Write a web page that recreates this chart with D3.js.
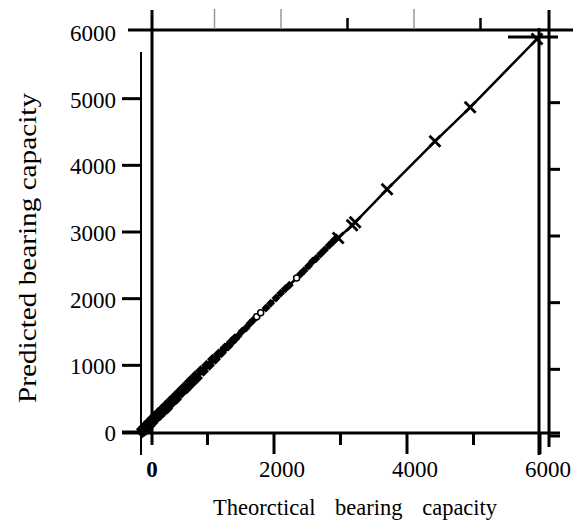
<!DOCTYPE html>
<html>
<head>
<meta charset="utf-8">
<script src="https://cdn.jsdelivr.net/npm/d3@7"></script>
<style>
	body { margin: 0; background: #fff; }
	svg { display: block; }
</style>
</head>
<body>
<svg id="chart"></svg>
<script>
// axis ticks
var xTicks = [0, 2000, 4000, 6000],
	xMinorTicks = [1000, 3000, 5000],
	yTicks = [0, 1000, 2000, 3000, 4000, 5000, 6000],
	topGrayTicks = [1000, 2000, 4000],
	topDarkTicks = [3000, 5000];

// filled diamonds (dense lower part)
var diamondTheo = [5, 20, 35, 50, 65, 80, 95, 115, 135, 155, 180, 205, 230, 255, 280, 310, 340, 370, 400, 430, 465, 500, 535, 570, 610, 650, 690, 730, 770, 810, 850, 895, 940, 985, 1030, 1075, 1120, 1165, 1210, 1260, 1310, 1360, 1410, 1460, 1520, 1580, 1640, 1690, 1880, 1950, 2030, 2100, 2170, 2230, 2400, 2450, 2520, 2580, 2630, 2700, 2760, 2830, 2880, 2910, 2940];
var diamondPred = [40, -10, 60, 10, 100, 30, 70, 150, 90, 190, 140, 240, 200, 290, 240, 340, 300, 400, 350, 460, 430, 530, 490, 600, 580, 680, 650, 760, 730, 840, 810, 920, 910, 1000, 1000, 1090, 1090, 1170, 1190, 1260, 1290, 1350, 1400, 1440, 1510, 1560, 1630, 1680, 1860, 1930, 2010, 2080, 2150, 2200, 2370, 2420, 2490, 2560, 2600, 2670, 2730, 2800, 2850, 2880, 2910];

// open circles
var circleTheo = [1740, 1800, 2340];
var circlePred = [1730, 1790, 2310];

// crosses (upper part)
var crossTheo = [2965, 3175, 3220, 3700, 4420, 4950, 5955];
var crossPred = [2910, 3100, 3145, 3640, 4360, 4870, 5895];

var W = 573, H = 526,
	FONT = "'Liberation Serif', 'Times New Roman', Times, serif";

var x = d3.scaleLinear().domain([0, 6000]).range([141, 540]),
	y = d3.scaleLinear().domain([0, 6000]).range([432, 32]);

var svg = d3.select("#chart").attr("width", W).attr("height", H);

// frame lines (scanned figure: two slightly misaligned frames)
function rule(x1, y1, x2, y2, w, col) {
	svg.append("line")
		.attr("x1", x1).attr("y1", y1).attr("x2", x2).attr("y2", y2)
		.attr("stroke", col || "#000").attr("stroke-width", w);
}

rule(x(0), y(5700), x(0), y(0) + 23, 2);           // thin left axis
rule(x(0) + 11, 10, x(0) + 11, y(0) + 13, 3);       // thick inner left
rule(x(0) - 13, y(6000) - 2, W, y(6000) - 2, 3);    // top
rule(x(0) - 19, y(0) + 1, x(6000) + 20, y(0) + 1, 3); // bottom axis
rule(x(6000) - 1, y(6000) - 4, x(6000) - 1, y(0) + 23, 3);
rule(x(6000) + 9, 10, x(6000) + 9, y(0) + 15, 3);
rule(x(6000) - 32, y(6000) + 5, x(6000) + 18, y(6000) + 5, 3);

// left y ticks
yTicks.slice(0, 6).forEach(function(v) {
	rule(x(0) - 19, y(v), x(0), y(v), 3);
});
// right y ticks
yTicks.slice(0, 6).forEach(function(v) {
	rule(x(6000) + 9, y(v) + 4, x(6000) + 20, y(v) + 4, 3);
});
// bottom ticks
xTicks.slice(1).forEach(function(v) {
	rule(x(v), y(0) + 1, x(v), y(0) + 22, 3);
});
xMinorTicks.forEach(function(v) {
	rule(x(v), y(0) + 1, x(v), y(0) + 13, 3);
});
// top ticks
topGrayTicks.forEach(function(v) {
	rule(x(v) + 7, 9, x(v) + 7, y(6000) - 3, 1.5, "#999");
});
topDarkTicks.forEach(function(v) {
	rule(x(v) + 7, 18, x(v) + 7, y(6000) - 3, 2.5);
});

// y tick labels
svg.append("g").selectAll("text")
	.data(yTicks)
	.enter().append("text")
	.attr("x", 116)
	.attr("y", function(d) { return y(d) + 1; })
	.attr("dy", "0.35em")
	.attr("text-anchor", "end")
	.attr("font-family", FONT)
	.attr("font-size", 23)
	.text(function(d) { return d; });

// x tick labels
svg.append("g").selectAll("text")
	.data(xTicks)
	.enter().append("text")
	.attr("x", function(d) { return x(d) + (d === 0 ? 11 : 8); })
	.attr("y", 477)
	.attr("text-anchor", "middle")
	.attr("font-family", FONT)
	.attr("font-size", 23)
	.attr("font-weight", function(d) { return d === 0 ? "bold" : "normal"; })
	.text(function(d) { return d; });

// axis titles
svg.append("text")
	.attr("x", 213)
	.attr("y", 515)
	.attr("font-family", FONT)
	.attr("font-size", 22.5)
	.style("word-spacing", "14px")
	.text("Theorctical bearing capacity");

svg.append("text")
	.attr("transform", "translate(36,403) rotate(-90)")
	.attr("textLength", 310)
	.attr("lengthAdjust", "spacingAndGlyphs")
	.attr("font-family", FONT)
	.attr("font-size", 25)
	.text("Predicted bearing capacity");

// data
var pts = [];
diamondTheo.forEach(function(d, i) { pts.push({t: d, p: diamondPred[i], k: "d"}); });
circleTheo.forEach(function(d, i) { pts.push({t: d, p: circlePred[i], k: "c"}); });
crossTheo.forEach(function(d, i) { pts.push({t: d, p: crossPred[i], k: "x"}); });
pts.sort(function(a, b) { return a.t - b.t; });

var line = d3.line()
	.x(function(d) { return x(d.t); })
	.y(function(d) { return y(d.p); });

svg.append("path")
	.datum(pts)
	.attr("fill", "none")
	.attr("stroke", "#000")
	.attr("stroke-width", 2.5)
	.attr("stroke-linejoin", "round")
	.attr("d", line);

svg.append("g").selectAll("path")
	.data(pts.filter(function(d) { return d.k === "d"; }))
	.enter().append("path")
	.attr("transform", function(d) { return "translate(" + x(d.t) + "," + y(d.p) + ") rotate(45)"; })
	.attr("d", d3.symbol().type(d3.symbolSquare).size(function(d) { return d.t < 1450 ? 60 : 40; }))
	.attr("fill", "#000");

svg.append("g").selectAll("circle")
	.data(pts.filter(function(d) { return d.k === "c"; }))
	.enter().append("circle")
	.attr("cx", function(d) { return x(d.t); })
	.attr("cy", function(d) { return y(d.p); })
	.attr("r", 3)
	.attr("fill", "#fff")
	.attr("stroke", "#000")
	.attr("stroke-width", 1.5);

svg.append("g").selectAll("path")
	.data(pts.filter(function(d) { return d.k === "x"; }))
	.enter().append("path")
	.attr("transform", function(d) { return "translate(" + x(d.t) + "," + y(d.p) + ")"; })
	.attr("d", d3.symbol().type(d3.symbolTimes).size(80))
	.attr("fill", "none")
	.attr("stroke", "#000")
	.attr("stroke-width", 2.8);
</script>
</body>
</html>
